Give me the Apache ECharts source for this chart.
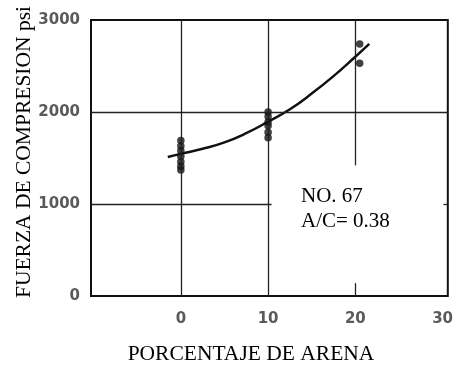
<!DOCTYPE html>
<html><head><meta charset="utf-8">
<script src="https://cdn.jsdelivr.net/npm/echarts@6/dist/echarts.min.js"></script>
<style>html,body{margin:0;padding:0;background:#fff}#c{width:456px;height:369px}</style>
</head><body><div id="c"></div>
<script>
const xTickLabels=[0,10,20,30];
const yTickLabels=[0,1000,2000,3000];
const sandAt0=[0,0,0,0,0,0,0];
const strengthAt0=[1690,1630,1580,1520,1460,1410,1370];
const sandAt10=[10,10,10,10,10,10];
const strengthAt10=[2000,1950,1890,1850,1780,1720];
const sandAt20=[20.5,20.5];
const strengthAt20=[2740,2530];
const curveX=[-1.5,0,2.5,5,7.5,10,12.5,15,17.5,20,21.6];
const curveY=[1510,1545,1600,1670,1770,1895,2030,2200,2390,2600,2740];
const xTitle='PORCENTAJE DE ARENA';
const yTitle='FUERZA DE COMPRESION psi';
const note=['NO. 67','A/C= 0.38'];

const X_MIN=-10.3, X_MAX=30.6, Y_MIN=0, Y_MAX=3000;
const pts=[];
[[sandAt0,strengthAt0],[sandAt10,strengthAt10],[sandAt20,strengthAt20]].forEach(([xs,ys])=>xs.forEach((x,i)=>pts.push([x,ys[i]])));
const seg=(a,b)=>[{coord:a},{coord:b}];
const chart=echarts.init(document.getElementById('c'),null,{renderer:'canvas'});
const tickFont={fontFamily:'DejaVu Sans',fontWeight:'bold',fontSize:15,color:'#5a5a5a',formatter:v=>String(v)};
const serif='"Liberation Serif","Times New Roman",serif';
chart.setOption({
  animation:false,
  grid:{left:91,right:7,top:20,bottom:73,show:true,borderColor:'#111',borderWidth:2,backgroundColor:'transparent'},
  xAxis:{type:'value',min:X_MIN,max:X_MAX,splitLine:{show:false},axisLine:{show:false},
    axisTick:{show:false},
    axisLabel:Object.assign({customValues:xTickLabels,margin:16},tickFont)},
  yAxis:{type:'value',min:Y_MIN,max:Y_MAX,splitLine:{show:false},axisLine:{show:false},
    axisTick:{show:false},
    axisLabel:Object.assign({customValues:yTickLabels,margin:11},tickFont)},
  series:[
    {type:'line',data:[],silent:true,
     markLine:{silent:true,symbol:'none',label:{show:false},lineStyle:{color:'#222',width:1.3,type:'solid'},
       data:[
         seg([0,Y_MIN],[0,Y_MAX]),
         seg([10,Y_MIN],[10,Y_MAX]),
         seg([20,1420],[20,Y_MAX]),
         seg([20,Y_MIN],[20,140]),
         seg([X_MIN,2000],[X_MAX,2000]),
         seg([X_MIN,1000],[10.4,1000]),
         seg([30.1,1000],[X_MAX,1000])
       ]}},
    {type:'line',data:curveX.map((x,i)=>[x,curveY[i]]),smooth:true,showSymbol:false,
     lineStyle:{color:'#111',width:2.5},z:3},
    {type:'scatter',data:pts,symbol:'circle',symbolSize:7.5,itemStyle:{color:'#111'},z:4}
  ],
  graphic:[
    {type:'text',x:251,y:343,style:{text:xTitle,font:'21.5px '+serif,fill:'#000',align:'center',verticalAlign:'top'}},
    {type:'text',rotation:Math.PI/2,x:13,y:152,style:{text:yTitle,font:'21.5px '+serif,fill:'#000',align:'center',verticalAlign:'top'}},
    {type:'text',x:301,y:184,style:{text:note.join('\n'),font:'21px '+serif,fill:'#000',lineHeight:25}}
  ]
});
</script></body></html>
